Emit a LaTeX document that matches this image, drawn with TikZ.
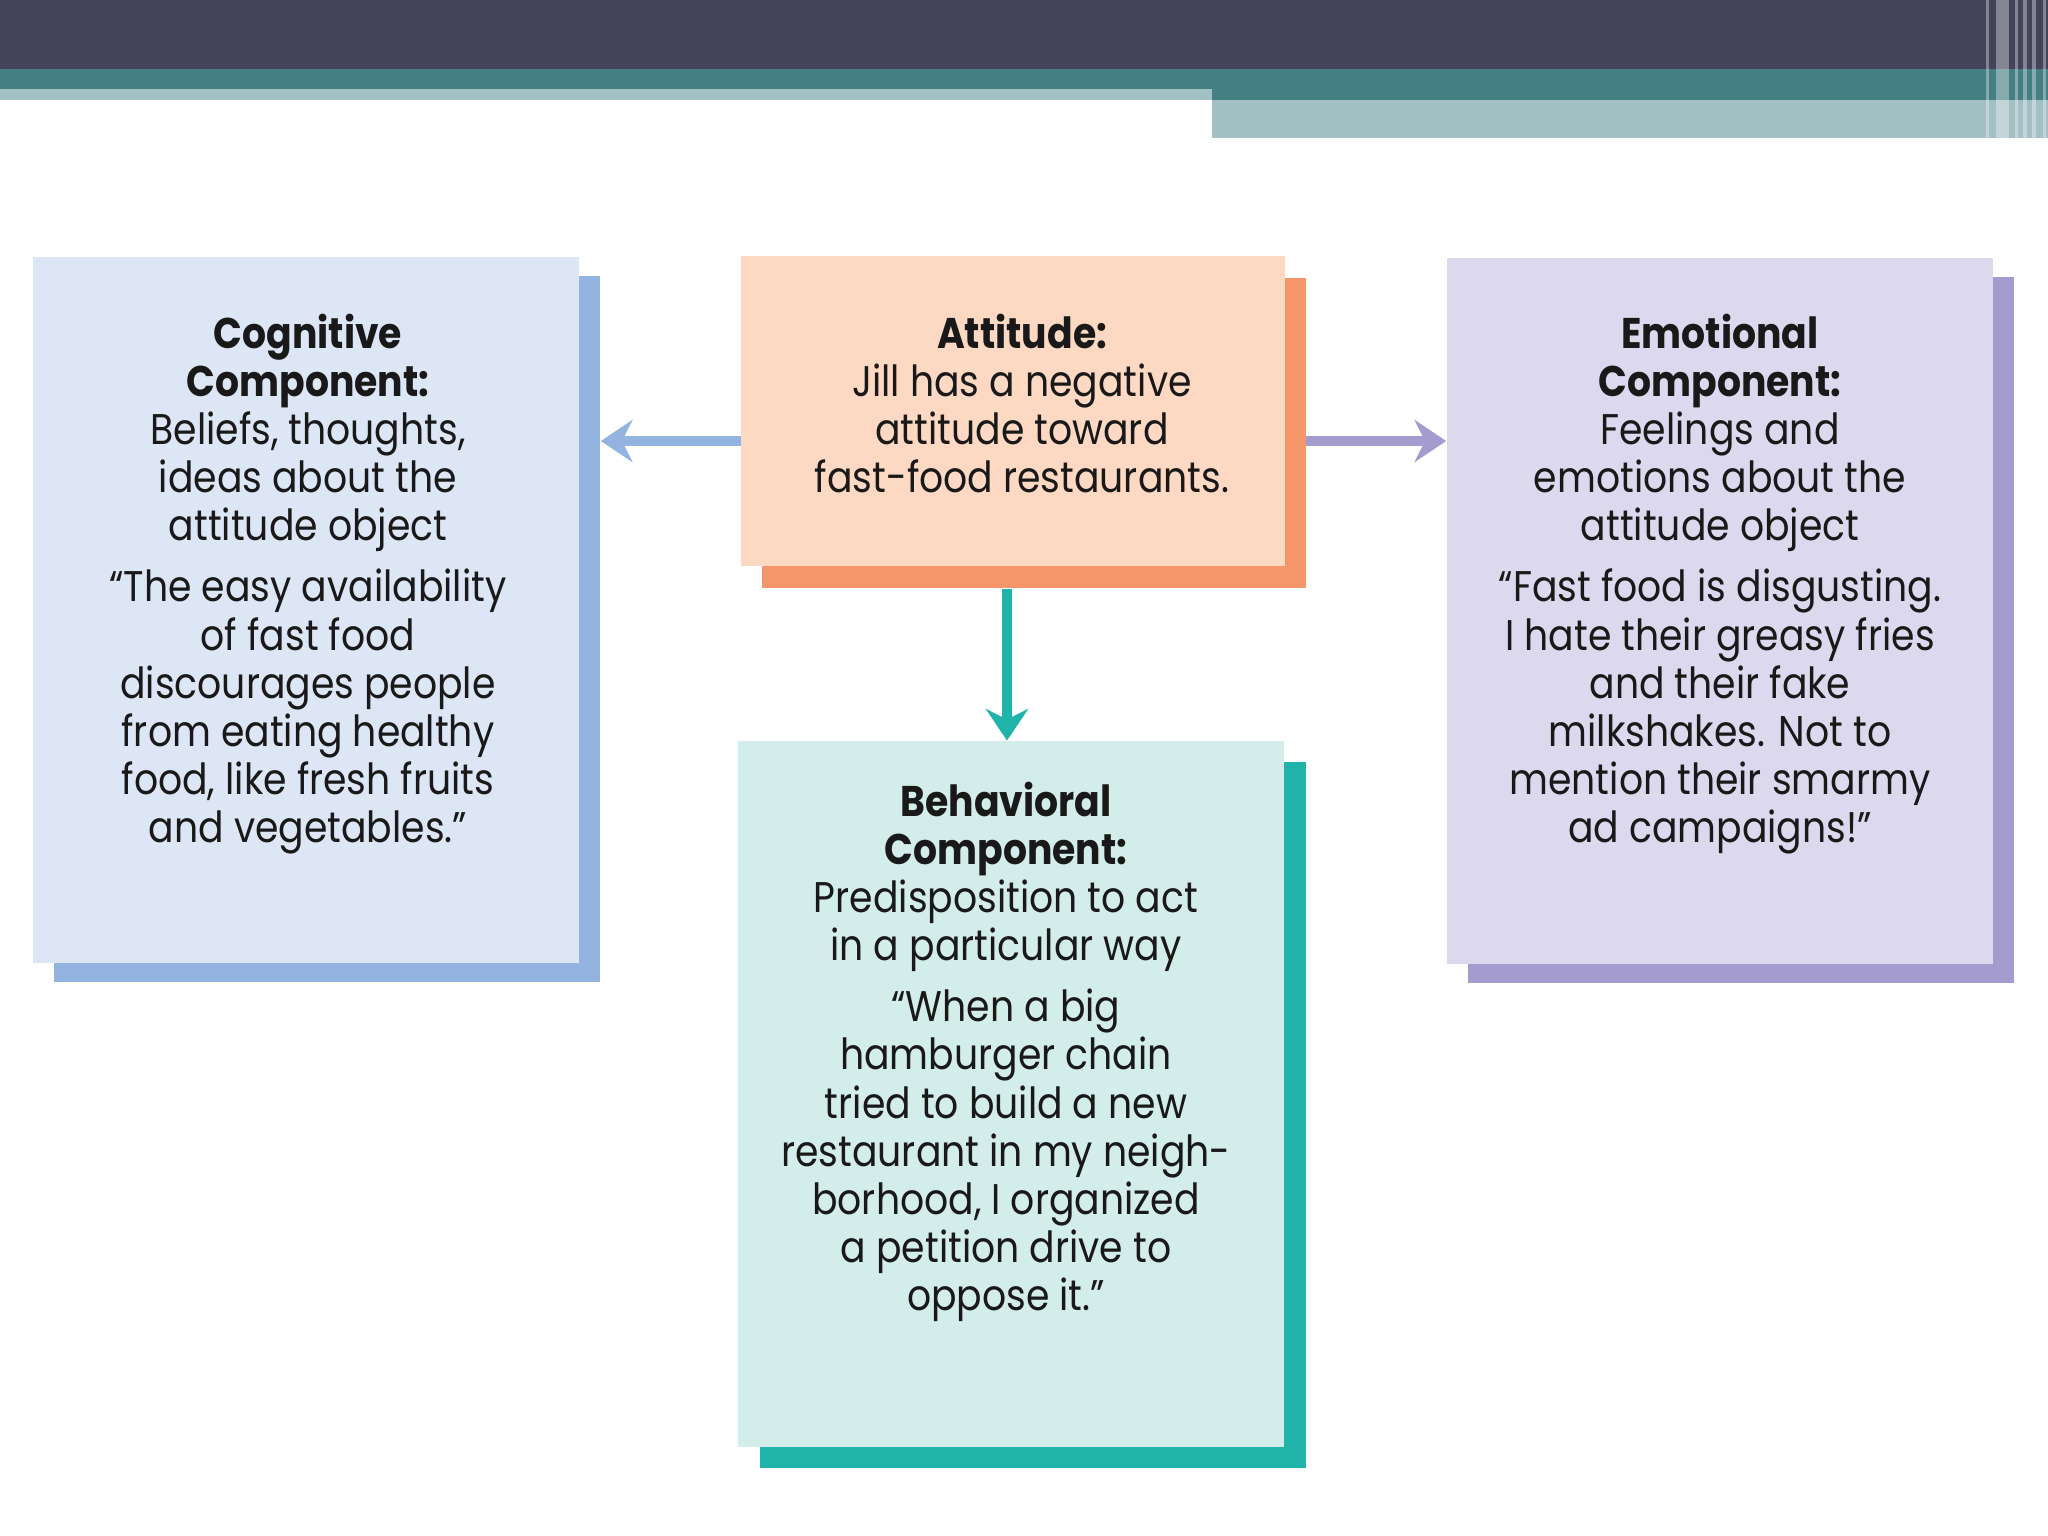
\documentclass[tikz,border=0pt]{standalone}
\usepackage{fontspec}
\setmainfont[FakeStretch=0.88]{Poppins}
\usetikzlibrary{arrows.meta,positioning,calc}

\definecolor{barDark}{HTML}{45435A}
\definecolor{barTeal}{HTML}{447F84}
\definecolor{barLight}{HTML}{A3C0C5}
\definecolor{cogFill}{HTML}{DCE6F5}
\definecolor{cogShade}{HTML}{93B4E0}
\definecolor{attFill}{HTML}{FDD9C4}
\definecolor{attShade}{HTML}{F4956A}
\definecolor{emoFill}{HTML}{DCD9EE}
\definecolor{emoShade}{HTML}{A49BCF}
\definecolor{behFill}{HTML}{D3EDEA}
\definecolor{behShade}{HTML}{1FB3AA}

\tikzset{
  compbox/.style={minimum width=5.46cm, minimum height=7.05cm, inner sep=0pt},
  attbox/.style={minimum width=5.43cm, minimum height=3.10cm, inner sep=0pt},
  boxtext/.style={align=center, inner sep=0pt, text=black!90,
    font=\fontsize{12.2}{13.7}\selectfont},
  flow/.style={line width=3pt, -{Stealth[length=9pt,width=12pt,inset=3pt]}},
}

\begin{document}
\begin{tikzpicture}[x=0.01cm, y=-0.01cm]
  \useasboundingbox (0,0) rectangle (2048,1536);
  % title bar
  \fill[barDark] (0,0) rectangle (2048,69);
  \fill[barTeal] (0,69) rectangle (2048,89);
  \fill[barLight] (0,89) rectangle (1212,100);
  \fill[barTeal] (1212,89) rectangle (2048,100);
  \fill[barLight] (1212,100) rectangle (2048,138);
  \foreach \sx/\sw in {1986/3, 1996/13, 2015/3, 2023/4, 2032/4, 2043/3}
    \fill[white, opacity=0.35] (\sx,0) rectangle ++(\sw,138);

  % shadows
  \node[compbox, fill=cogShade] (cogS) at (327,629) {};
  \node[attbox, fill=attShade] (attS) at (1034,433) {};
  \node[compbox, fill=emoShade] (emoS) at (1741,630) {};
  \node[compbox, fill=behShade] (behS) at (1033,1115) {};

  % boxes
  \node[compbox, fill=cogFill] (cog) at (306,610) {};
  \node[attbox, fill=attFill] (att) at (1013,411) {};
  \node[compbox, fill=emoFill] (emo) at (1720,611) {};
  \node[compbox, fill=behFill] (beh) at (1011,1094) {};

  % texts
  \node[boxtext, anchor=north] (cogT) at (308,313) {%
    \textbf{Cognitive}\\ \textbf{Component:}\\ Beliefs, thoughts,\\
    ideas about the\\ attitude object\\[0.3em]
    “The easy availability\\ of fast food\\ discourages people\\
    from eating healthy\\ food, like fresh fruits\\ and vegetables.”};
  \node[boxtext, anchor=north] (attT) at (1022,313) {%
    \textbf{Attitude:}\\ Jill has a negative\\ attitude toward\\
    fast-food restaurants.};
  \node[boxtext, anchor=north] (emoT) at (1720,313) {%
    \textbf{Emotional}\\ \textbf{Component:}\\ Feelings and\\
    emotions about the\\ attitude object\\[0.3em]
    “Fast food is disgusting.\\ I hate their greasy fries\\ and their fake\\
    milkshakes. Not to\\ mention their smarmy\\ ad campaigns!”};
  \node[boxtext, anchor=north] (behT) at (1006,781) {%
    \textbf{Behavioral}\\ \textbf{Component:}\\ Predisposition to act\\
    in a particular way\\[0.3em]
    “When a big\\ hamburger chain\\ tried to build a new\\
    restaurant in my neigh-\\ borhood, I organized\\ a petition drive to\\
    oppose it.”};

  % arrows
  \coordinate (attL) at ([yshift=-0.3cm]att.west);
  \coordinate (attD) at ([xshift=-0.06cm]att.south);
  \draw[flow, cogShade] (attL) -- (attL -| cogS.east);
  \draw[flow, emoShade] (attL -| attS.east) -- (attL -| emo.west);
  \draw[flow, behShade] (attD |- attS.south) -- (attD |- beh.north);
\end{tikzpicture}
\end{document}
